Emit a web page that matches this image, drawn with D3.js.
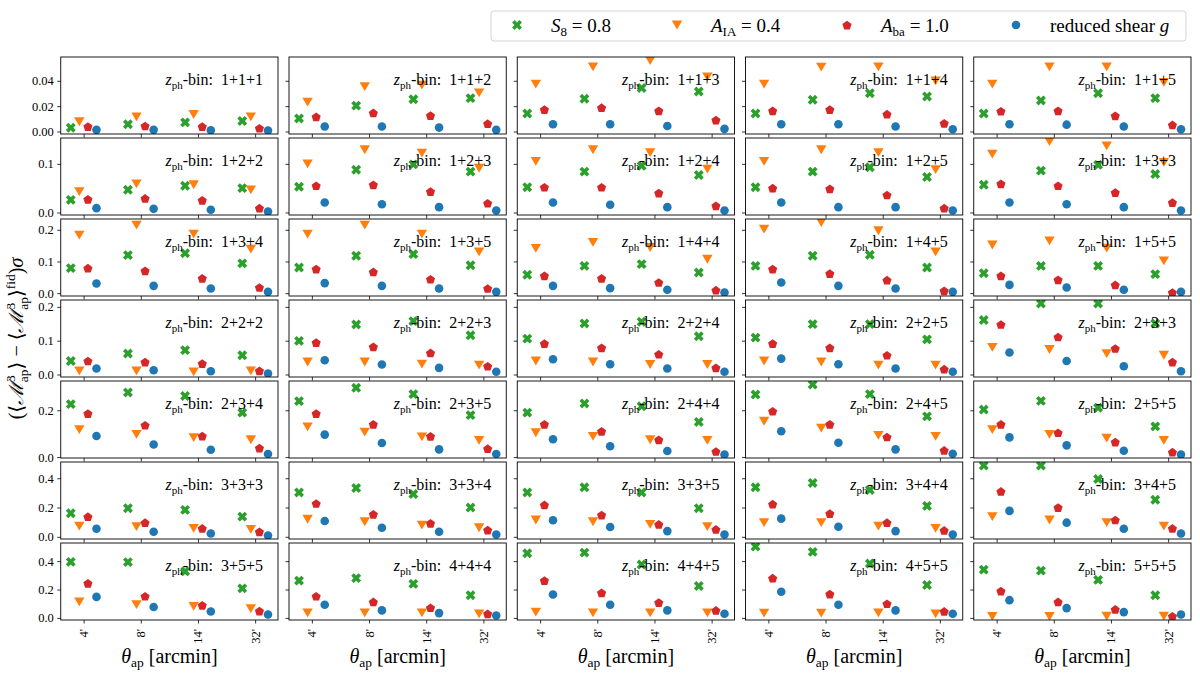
<!DOCTYPE html>
<html>
<head>
<meta charset="utf-8">
<script src="https://cdn.jsdelivr.net/npm/d3@7"></script>
<style>
  body { margin: 0; background: #fff; }
  svg text { font-family: "Liberation Serif", "DejaVu Serif", serif; fill: #000; }
</style>
</head>
<body>
<div id="chart"></div>
<script>
// photometric redshift bin triplets, one per panel (row-major, 5 per row)
const binLabels = [
    '1+1+1', '1+1+2', '1+1+3', '1+1+4', '1+1+5',
    '1+2+2', '1+2+3', '1+2+4', '1+2+5', '1+3+3',
    '1+3+4', '1+3+5', '1+4+4', '1+4+5', '1+5+5',
    '2+2+2', '2+2+3', '2+2+4', '2+2+5', '2+3+3',
    '2+3+4', '2+3+5', '2+4+4', '2+4+5', '2+5+5',
    '3+3+3', '3+3+4', '3+3+5', '3+4+4', '3+4+5',
    '3+5+5', '4+4+4', '4+4+5', '4+5+5', '5+5+5'
];
const thetaLabels = ["4'", "8'", "14'", "32'"];

// S8 = 0.8
const s8Values = [
    [0.003, 0.0057, 0.0072, 0.0083], [0.0103, 0.0204, 0.0255, 0.0263], [0.0142, 0.0258, 0.0343, 0.0315],
    [0.0142, 0.025, 0.0302, 0.0276], [0.0142, 0.0245, 0.0302, 0.0263],
    [0.026, 0.0466, 0.055, 0.05], [0.053, 0.088, 0.099, 0.084], [0.052, 0.084, 0.096, 0.077],
    [0.052, 0.084, 0.093, 0.073], [0.057, 0.086, 0.098, 0.079],
    [0.079, 0.12, 0.126, 0.094], [0.081, 0.118, 0.123, 0.088], [0.058, 0.086, 0.0916, 0.065],
    [0.086, 0.118, 0.121, 0.081], [0.063, 0.086, 0.086, 0.06],
    [0.04, 0.062, 0.072, 0.057], [0.0995, 0.148, 0.158, 0.116], [0.106, 0.151, 0.156, 0.113],
    [0.109, 0.149, 0.149, 0.104], [0.161, 0.21, 0.21, 0.151],
    [0.226, 0.276, 0.261, 0.19], [0.239, 0.296, 0.269, 0.179], [0.19, 0.229, 0.217, 0.15],
    [0.267, 0.31, 0.269, 0.174], [0.203, 0.24, 0.211, 0.131],
    [0.161, 0.195, 0.184, 0.138], [0.303, 0.333, 0.292, 0.2], [0.303, 0.338, 0.303, 0.195],
    [0.338, 0.368, 0.32, 0.211], [0.487, 0.487, 0.395, 0.253],
    [0.395, 0.393, 0.328, 0.208], [0.263, 0.28, 0.24, 0.16], [0.455, 0.46, 0.376, 0.225],
    [0.503, 0.465, 0.383, 0.232], [0.34, 0.333, 0.268, 0.16]
];
// A_IA = 0.4
const aiaValues = [
    [0.0077, 0.0116, 0.0134, 0.0116], [0.0232, 0.0354, 0.0366, 0.0305], [0.0374, 0.051, 0.056, 0.0431],
    [0.0374, 0.0508, 0.051, 0.04], [0.0374, 0.051, 0.051, 0.0387],
    [0.043, 0.059, 0.057, 0.0466], [0.1, 0.129, 0.122, 0.091], [0.105, 0.129, 0.123, 0.089],
    [0.105, 0.129, 0.123, 0.088], [0.12, 0.146, 0.137, 0.103],
    [0.183, 0.215, 0.186, 0.139], [0.186, 0.215, 0.186, 0.13], [0.141, 0.16, 0.144, 0.107],
    [0.202, 0.223, 0.197, 0.13], [0.152, 0.165, 0.142, 0.102],
    [0.011, 0.011, 0.008, 0.011], [0.037, 0.037, 0.0305, 0.0276], [0.04, 0.037, 0.0296, 0.0296],
    [0.04, 0.037, 0.0276, 0.0276], [0.08, 0.074, 0.062, 0.057],
    [0.117, 0.097, 0.083, 0.074], [0.129, 0.107, 0.086, 0.071], [0.104, 0.0886, 0.074, 0.071],
    [0.153, 0.124, 0.093, 0.0886], [0.117, 0.097, 0.081, 0.071],
    [0.0736, 0.069, 0.0575, 0.0506], [0.12, 0.103, 0.08, 0.062], [0.115, 0.103, 0.085, 0.069],
    [0.0966, 0.0966, 0.0736, 0.0575], [0.138, 0.115, 0.0966, 0.0736],
    [0.113, 0.093, 0.081, 0.065], [0.036, 0.036, 0.036, 0.029], [0.041, 0.036, 0.036, 0.036],
    [0.034, 0.034, 0.036, 0.029], [0.01, 0.01, 0.012, 0.012]
];
// A_ba = 1.0
const abaValues = [
    [0.0039, 0.0044, 0.0039, 0.0026], [0.0116, 0.0147, 0.0126, 0.0062], [0.0173, 0.0188, 0.0163, 0.009],
    [0.0163, 0.0173, 0.0137, 0.0065], [0.016, 0.0163, 0.0124, 0.0052],
    [0.027, 0.029, 0.025, 0.0089], [0.055, 0.057, 0.043, 0.019], [0.052, 0.052, 0.04, 0.0137],
    [0.05, 0.0486, 0.036, 0.0089], [0.059, 0.055, 0.041, 0.0205],
    [0.079, 0.0705, 0.047, 0.018], [0.076, 0.067, 0.044, 0.0147], [0.0547, 0.047, 0.0337, 0.0095],
    [0.076, 0.062, 0.041, 0.0074], [0.0547, 0.042, 0.026, 0.002],
    [0.04, 0.037, 0.0325, 0.011], [0.0946, 0.082, 0.064, 0.0246], [0.0916, 0.079, 0.06, 0.0197],
    [0.0916, 0.079, 0.057, 0.0158], [0.148, 0.111, 0.077, 0.037],
    [0.186, 0.136, 0.09, 0.0386], [0.186, 0.14, 0.0886, 0.036], [0.14, 0.11, 0.074, 0.024],
    [0.196, 0.14, 0.086, 0.0286], [0.14, 0.104, 0.064, 0.021],
    [0.138, 0.0966, 0.0575, 0.0345], [0.228, 0.154, 0.092, 0.046], [0.218, 0.149, 0.085, 0.0506],
    [0.223, 0.159, 0.0966, 0.0437], [0.31, 0.2, 0.115, 0.0575],
    [0.244, 0.153, 0.089, 0.048], [0.153, 0.113, 0.072, 0.029], [0.263, 0.177, 0.108, 0.053],
    [0.28, 0.168, 0.1, 0.046], [0.189, 0.113, 0.06, 0.012]
];
// reduced shear g
const shearValues = [
    [0.0013, 0.0013, 0.001, 0.0008], [0.0039, 0.0039, 0.0031, 0.0013], [0.0057, 0.0057, 0.0044, 0.0021],
    [0.0057, 0.0057, 0.0039, 0.0018], [0.0057, 0.0054, 0.0039, 0.0018],
    [0.0089, 0.0075, 0.0055, 0.002], [0.0205, 0.017, 0.011, 0.004], [0.0205, 0.0158, 0.011, 0.004],
    [0.0205, 0.011, 0.011, 0.004], [0.0205, 0.017, 0.011, 0.004],
    [0.0305, 0.023, 0.0147, 0.004], [0.0316, 0.023, 0.0147, 0.004], [0.023, 0.0158, 0.0105, 0.002],
    [0.0337, 0.023, 0.0147, 0.004], [0.026, 0.018, 0.0105, 0.004],
    [0.0177, 0.0128, 0.0098, 0.003], [0.042, 0.0296, 0.0197, 0.008], [0.045, 0.0305, 0.0177, 0.008],
    [0.047, 0.0305, 0.0177, 0.008], [0.065, 0.04, 0.0246, 0.0098],
    [0.09, 0.054, 0.031, 0.013], [0.096, 0.06, 0.033, 0.013], [0.076, 0.046, 0.026, 0.011],
    [0.11, 0.061, 0.033, 0.014], [0.084, 0.05, 0.027, 0.011],
    [0.055, 0.0345, 0.023, 0.009], [0.108, 0.062, 0.0345, 0.016], [0.113, 0.067, 0.039, 0.016],
    [0.124, 0.069, 0.039, 0.016], [0.177, 0.0966, 0.055, 0.023],
    [0.148, 0.077, 0.045, 0.024], [0.093, 0.053, 0.034, 0.017], [0.165, 0.093, 0.053, 0.029],
    [0.184, 0.093, 0.053, 0.029], [0.125, 0.069, 0.041, 0.024]
];

// y tick values for each row of panels
const rowTicks = [
    [0, 0.02, 0.04],
    [0, 0.1],
    [0, 0.1, 0.2],
    [0, 0.1, 0.2],
    [0, 0.2],
    [0, 0.2, 0.4],
    [0, 0.2, 0.4]
];

const series = [
    { values: s8Values,    color: '#2ca02c', marker: 'X', offset: -0.225 },
    { values: aiaValues,   color: '#ff7f0e', marker: 'v', offset: -0.075 },
    { values: abaValues,   color: '#d62728', marker: 'p', offset: 0.075 },
    { values: shearValues, color: '#1f77b4', marker: 'o', offset: 0.225 }
];

// Layout
const width = 1200, height = 678;
const nCols = 5, nRows = 7;
const marginLeft = 60.75, marginTop = 57;
const colW = 217.25, colGap = 11;
const rowH = 77, rowGap = 4;

const svg = d3.select('#chart').append('svg')
    .attr('width', width)
    .attr('height', height);

// marker paths (centred at 0,0)
function markerPath(type) {
    if (type === 'o') {
        return d3.symbol().type(d3.symbolCircle).size(Math.PI * 4.3 * 4.3)();
    }
    let pts;
    if (type === 'v') {
        pts = [[-5.2, -4.4], [5.2, -4.4], [0, 4.4]];
    } else if (type === 'p') {
        const r = 4.8;
        pts = d3.range(5).map(k => {
            const a = -Math.PI / 2 + k * 2 * Math.PI / 5;
            return [r * Math.cos(a), r * Math.sin(a) + 0.5];
        });
    } else {
        // filled "X": plus shape rotated by 45 degrees
        const a = 5.2, b = 1.8;
        const plus = [[-b, -a], [b, -a], [b, -b], [a, -b], [a, b], [b, b], [b, a], [-b, a],
                      [-b, b], [-a, b], [-a, -b], [-b, -b]];
        const c = Math.SQRT1_2;
        pts = plus.map(([px, py]) => [c * (px - py), c * (px + py)]);
    }
    return 'M' + pts.map(p => p[0].toFixed(2) + ',' + p[1].toFixed(2)).join('L') + 'Z';
}

const x = d3.scaleLinear().domain([-0.4, 3.4]).range([0, colW]);

// row y-scales, autoscaled like matplotlib (5% margins)
const yScales = d3.range(nRows).map(r => {
    const vals = [];
    for (let c = 0; c < nCols; c++) {
        const idx = r * nCols + c;
        series.forEach(s => vals.push(...s.values[idx]));
    }
    const lo = d3.min(vals), hi = d3.max(vals);
    const pad = (hi - lo) * 0.05;
    return d3.scaleLinear().domain([lo - pad, hi + pad]).range([rowH, 0]);
});

binLabels.forEach((label, idx) => {
    const r = Math.floor(idx / nCols), c = idx % nCols;
    const y = yScales[r];
    const g = svg.append('g')
        .attr('transform', `translate(${marginLeft + c * (colW + colGap)},${marginTop + r * (rowH + rowGap)})`);

    const clipId = 'clip-' + idx;
    g.append('clipPath').attr('id', clipId)
        .append('rect').attr('width', colW).attr('height', rowH);

    // axes
    const yAxis = d3.axisLeft(y)
        .tickValues(rowTicks[r])
        .tickSize(3.5)
        .tickPadding(3.5)
        .tickFormat(c === 0 ? d3.format(r === 0 ? '.2f' : '.1f') : '');
    const ya = g.append('g').attr('class', 'y-axis').call(yAxis);

    const xAxis = d3.axisBottom(x)
        .tickValues(d3.range(thetaLabels.length))
        .tickSize(3.5)
        .tickFormat(r === nRows - 1 ? (d => thetaLabels[d]) : '');
    const xa = g.append('g').attr('class', 'x-axis')
        .attr('transform', `translate(0,${rowH})`)
        .call(xAxis);

    [ya, xa].forEach(a => {
        a.select('.domain').remove();
        a.selectAll('.tick line').attr('stroke', '#000').attr('stroke-width', 0.8);
    });
    ya.selectAll('.tick text').style('font-size', '12.5px');
    xa.selectAll('.tick text')
        .style('font-size', '12.5px')
        .attr('text-anchor', 'end')
        .attr('dy', '0.32em')
        .attr('transform', 'translate(0,9) rotate(-90)')
        .attr('x', 0).attr('y', 0);

    // markers
    const plot = g.append('g').attr('clip-path', `url(#${clipId})`);
    series.forEach(s => {
        const path = markerPath(s.marker);
        plot.selectAll(null)
            .data(s.values[idx])
            .enter()
            .append('path')
            .attr('d', path)
            .attr('transform', (d, i) => `translate(${x(i + s.offset)},${y(d)})`)
            .attr('fill', s.color);
    });

    // frame
    g.append('rect')
        .attr('width', colW).attr('height', rowH)
        .attr('fill', 'none').attr('stroke', '#000').attr('stroke-width', 0.9);

    // bin label
    const t = g.append('text')
        .attr('x', colW - 15).attr('y', 28)
        .attr('text-anchor', 'end')
        .style('font-size', '16px');
    t.append('tspan').style('font-style', 'italic').text('z');
    t.append('tspan').attr('dy', 3.5).style('font-size', '11px').text('ph');
    t.append('tspan').attr('dy', -3.5).text('-bin:\u2002' + label);
});

// x axis labels
d3.range(nCols).forEach(c => {
    const t = svg.append('text')
        .attr('x', marginLeft + c * (colW + colGap) + colW / 2)
        .attr('y', 663)
        .attr('text-anchor', 'middle')
        .style('font-size', '20px');
    t.append('tspan').style('font-style', 'italic').text('\u03b8');
    t.append('tspan').attr('dy', 4).style('font-size', '13.5px').text('ap');
    t.append('tspan').attr('dy', -4).text(' [arcmin]');
});

// y axis label
const yl = svg.append('text')
    .attr('transform', `translate(23,${marginTop + (nRows * rowH + (nRows - 1) * rowGap) / 2}) rotate(-90)`)
    .attr('text-anchor', 'middle')
    .style('font-size', '20px');
function addM(sel) {
    sel.append('tspan').style('font-family', '"DejaVu Serif", serif').style('font-style', 'italic').text('\u2133');
    sel.append('tspan').attr('dy', -8).style('font-size', '13.5px').text('3');
    sel.append('tspan').attr('dx', -7).attr('dy', 13).style('font-size', '13.5px').text('ap');
    sel.append('tspan').attr('dy', -5).text('\u27e9');
}
yl.append('tspan').text('(\u27e8');
addM(yl);
yl.append('tspan').text(' \u2212 \u27e8');
addM(yl);
yl.append('tspan').attr('dy', -8).style('font-size', '13.5px').text('fid');
yl.append('tspan').attr('dy', 8).text(')');
yl.append('tspan').style('font-style', 'italic').text('\u03c3');

// legend
const legend = svg.append('g').attr('class', 'legend');
legend.append('rect')
    .attr('x', 491).attr('y', 11).attr('width', 695).attr('height', 30)
    .attr('rx', 3).attr('fill', '#fff').attr('stroke', '#d5d5d5').attr('stroke-width', 1);

const legendX = [517, 677, 847, 1016];
const legendParts = [
    [['S', 'i'], ['8', 's'], [' = 0.8', 'n']],
    [['A', 'i'], ['IA', 's'], [' = 0.4', 'n']],
    [['A', 'i'], ['ba', 's'], [' = 1.0', 'n']],
    [['reduced shear ', 'n'], ['g', 'i']]
];
series.forEach((s, i) => {
    legend.append('path')
        .attr('d', markerPath(s.marker))
        .attr('transform', `translate(${legendX[i]},25)`)
        .attr('fill', s.color);
    const t = legend.append('text')
        .attr('x', legendX[i] + 34).attr('y', 32)
        .style('font-size', '19px');
    let sub = false;
    legendParts[i].forEach(([txt, kind]) => {
        const ts = t.append('tspan').text(txt);
        if (kind === 'i') ts.style('font-style', 'italic');
        if (kind === 's') { ts.attr('dy', 4).style('font-size', '13px'); sub = true; }
        else if (sub) { ts.attr('dy', -4); sub = false; }
    });
});
</script>
</body>
</html>
